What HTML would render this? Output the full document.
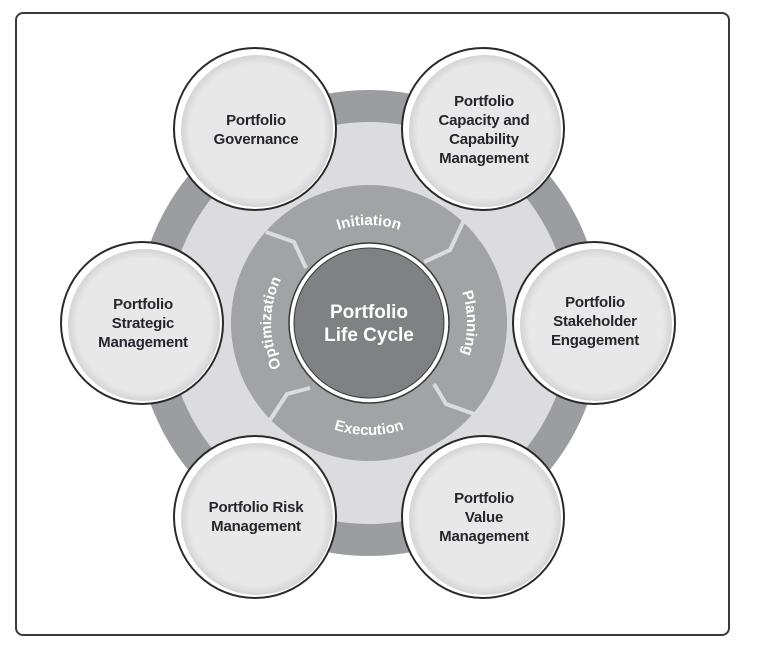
<!DOCTYPE html>
<html><head><meta charset="utf-8"><style>
html,body{margin:0;padding:0;background:#fff;width:771px;height:653px;overflow:hidden}
svg{display:block}
.t{font-family:"Liberation Sans",sans-serif;font-weight:bold;font-size:15px;fill:#25262b;text-anchor:middle;letter-spacing:-0.2px}
.w{font-family:"Liberation Sans",sans-serif;font-weight:bold;fill:#fff}
</style></head><body>
<svg width="771" height="653" viewBox="0 0 771 653" xmlns="http://www.w3.org/2000/svg">
<defs>
<radialGradient id="g" cx="0.5" cy="0.5" r="0.5">
<stop offset="0.88" stop-color="#e8e8e9"/><stop offset="1" stop-color="#d4d4d6"/>
</radialGradient>
<path id="pI" d="M271,323 A98,98 0 0 1 467,323"/>
<path id="pP" d="M369,225 A98,98 0 0 1 369,421"/>
<path id="pO" d="M369,421 A98,98 0 0 1 369,225"/>
<path id="pE" d="M257,323 A112,112 0 0 0 481,323"/>
</defs>
<rect x="16" y="13" width="713" height="622" rx="7" fill="#fff" stroke="#3a3a3c" stroke-width="2"/>
<circle cx="369" cy="323" r="233" fill="#9c9da0"/>
<circle cx="369" cy="323" r="201" fill="#dcdcde"/>
<circle cx="369" cy="323" r="138" fill="#a2a3a6"/>
<g stroke="#dcdcde" stroke-width="4" fill="none">
<polyline points="266,232 294,242 306,268"/>
<polyline points="464,220 450,250 424,262"/>
<polyline points="434,384 446,404 474,414"/>
<polyline points="270,420 287,394 310,388"/>
</g>
<circle cx="369" cy="323" r="80" fill="#fff" stroke="#3a3a3c" stroke-width="1.5"/>
<circle cx="369" cy="323" r="75" fill="#808184" stroke="#3a3a3c" stroke-width="1"/>
<text class="w" font-size="19" text-anchor="middle"><tspan x="369" y="318">Portfolio</tspan><tspan x="369" y="341">Life Cycle</tspan></text>
<text class="w" font-size="15"><textPath href="#pI" startOffset="50%" text-anchor="middle">Initiation</textPath></text>
<text class="w" font-size="15"><textPath href="#pP" startOffset="50%" text-anchor="middle">Planning</textPath></text>
<text class="w" font-size="15"><textPath href="#pO" startOffset="50%" text-anchor="middle">Optimization</textPath></text>
<text class="w" font-size="15"><textPath href="#pE" startOffset="50%" text-anchor="middle">Execution</textPath></text>
<g stroke="#2a2a2c" stroke-width="2" fill="#fff">
<circle cx="255" cy="129" r="81"/><circle cx="483" cy="129" r="81"/>
<circle cx="142" cy="323" r="81"/><circle cx="594" cy="323" r="81"/>
<circle cx="255" cy="517" r="81"/><circle cx="483" cy="517" r="81"/>
</g>
<g fill="url(#g)">
<circle cx="257" cy="131" r="76"/><circle cx="485" cy="131" r="76"/>
<circle cx="144" cy="325" r="76"/><circle cx="596" cy="325" r="76"/>
<circle cx="257" cy="519" r="76"/><circle cx="485" cy="519" r="76"/>
</g>
<text class="t"><tspan x="256" y="125">Portfolio</tspan><tspan x="256" y="144">Governance</tspan></text>
<text class="t"><tspan x="484" y="106">Portfolio</tspan><tspan x="484" y="125">Capacity and</tspan><tspan x="484" y="144">Capability</tspan><tspan x="484" y="163">Management</tspan></text>
<text class="t"><tspan x="143" y="309">Portfolio</tspan><tspan x="143" y="328">Strategic</tspan><tspan x="143" y="347">Management</tspan></text>
<text class="t"><tspan x="595" y="307">Portfolio</tspan><tspan x="595" y="326">Stakeholder</tspan><tspan x="595" y="345">Engagement</tspan></text>
<text class="t"><tspan x="256" y="512">Portfolio Risk</tspan><tspan x="256" y="531">Management</tspan></text>
<text class="t"><tspan x="484" y="503">Portfolio</tspan><tspan x="484" y="522">Value</tspan><tspan x="484" y="541">Management</tspan></text>
</svg>
</body></html>
